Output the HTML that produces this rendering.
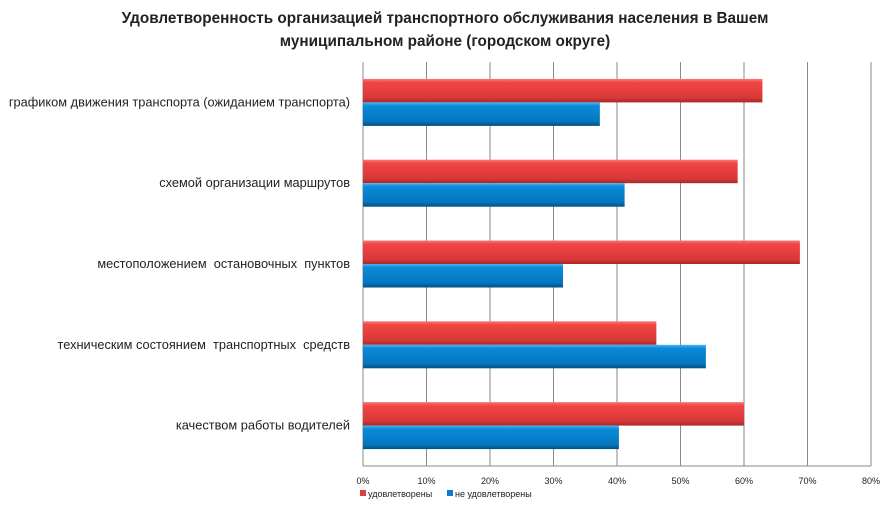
<!DOCTYPE html>
<html><head><meta charset="utf-8">
<style>
body{margin:0;background:#fff;}
svg{display:block;font-family:"Liberation Sans","DejaVu Sans",sans-serif;}
svg text{white-space:pre;}
</style></head>
<body>
<svg id="chart" width="890" height="511" viewBox="0 0 890 511" xmlns="http://www.w3.org/2000/svg">
<defs>
<linearGradient id="gr" x1="0" y1="0" x2="0" y2="1">
<stop offset="0" stop-color="#f47b7b"/><stop offset="0.15" stop-color="#f24545"/><stop offset="0.8" stop-color="#d83838"/><stop offset="1" stop-color="#a82828"/>
</linearGradient>
<linearGradient id="gb" x1="0" y1="0" x2="0" y2="1">
<stop offset="0" stop-color="#4ab4f0"/><stop offset="0.15" stop-color="#0a8ad8"/><stop offset="0.8" stop-color="#0676c0"/><stop offset="1" stop-color="#04507f"/>
</linearGradient>
</defs>
<text x="445" y="23" text-anchor="middle" font-size="15.3" font-weight="bold" fill="#222">Удовлетворенность организацией транспортного обслуживания населения в Вашем</text>
<text x="445" y="46" text-anchor="middle" font-size="15.3" font-weight="bold" fill="#222">муниципальном районе (городском округе)</text>
<g id="grid"></g>
<g id="bars"></g>
<g id="labels"></g>
<g id="legend">
<rect x="360" y="490" width="6" height="6" fill="#e03c3c"/>
<text x="368" y="497" font-size="9" fill="#222">удовлетворены</text>
<rect x="447" y="490" width="6" height="6" fill="#0a7cc8"/>
<text x="455" y="497" font-size="9" fill="#222">не удовлетворены</text>
</g>
</svg>
<script>
const categories = ["графиком движения транспорта (ожиданием транспорта)","схемой организации маршрутов","местоположением  остановочных  пунктов","техническим состоянием  транспортных  средств","качеством работы водителей"];
const satisfied = [62.9, 59.0, 68.8, 46.2, 60.0];
const unsatisfied = [37.3, 41.2, 31.5, 54.0, 40.3];
const ticks = [0,10,20,30,40,50,60,70,80];
const tickLabels = ["0%","10%","20%","30%","40%","50%","60%","70%","80%"];

const NS="http://www.w3.org/2000/svg";
const x0=363, x1=871, plotTop=62, plotBottom=466;
const band=(plotBottom-plotTop)/categories.length;
function xs(v){return x0+(v/80)*(x1-x0);}
function mk(tag,attrs,parent){const e=document.createElementNS(NS,tag);for(const k in attrs)e.setAttribute(k,attrs[k]);parent.appendChild(e);return e;}
const grid=document.getElementById('grid'), bars=document.getElementById('bars'), labels=document.getElementById('labels');
ticks.forEach((t,i)=>{
  const l=mk('line',{x1:xs(t),x2:xs(t),y1:plotTop,y2:plotBottom,stroke:'#8a8a8a','stroke-width':1},grid);
  
  
  const tx=mk('text',{x:xs(t),y:484,'text-anchor':'middle','font-size':9,fill:'#222'},grid);
  tx.textContent=tickLabels[i];
  
  
});
const ax=mk('line',{x1:x0,x2:x1,y1:plotBottom,y2:plotBottom,stroke:'#8a8a8a','stroke-width':1},grid);


categories.forEach((c,i)=>{
  const cy=plotTop+band*i+band/2;
  const r=mk('rect',{x:x0,y:cy-23.5,width:xs(satisfied[i])-x0,height:23.5,fill:'url(#gr)'},bars);
  
  
  const b=mk('rect',{x:x0,y:cy,width:xs(unsatisfied[i])-x0,height:23.5,fill:'url(#gb)'},bars);
  
  
  const t=mk('text',{x:350,y:cy+4,'text-anchor':'end','font-size':12.8,fill:'#222'},labels);
  t.textContent=c;
  
  
});
</script>
</body></html>
